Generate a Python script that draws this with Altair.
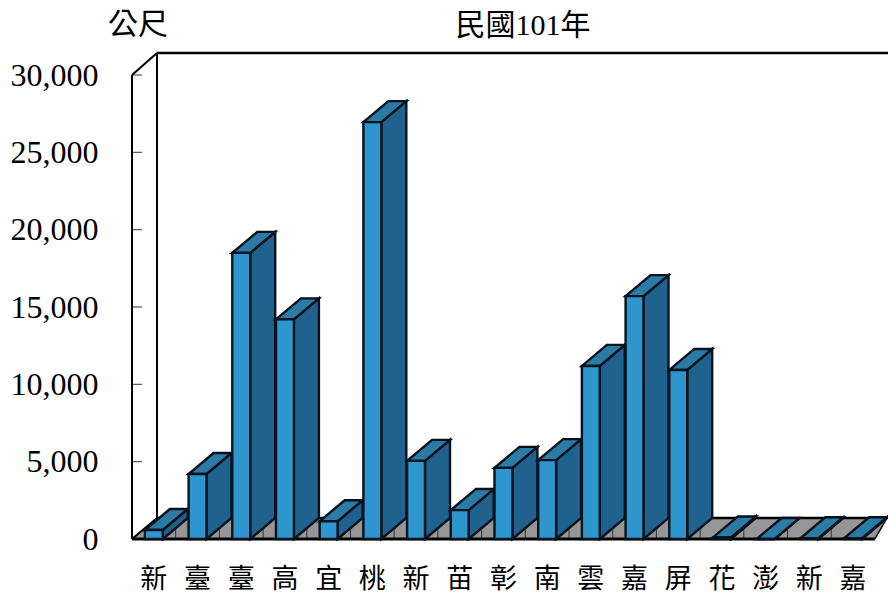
import altair as alt
import pandas as pd

categories = ["新","臺","臺","高","宜","桃","新","苗","彰","南","雲","嘉","屏","花","澎","新","嘉"]
values = [580, 4200, 18500, 14200, 1150, 26950, 5050, 1870, 4600, 5100, 11190, 15700, 10930, 100, 0, 50, 50]
y_ticks = [0, 5000, 10000, 15000, 20000, 25000, 30000]
title_text = "民國101年"
unit_text = "公尺"

SLOT = 43.7     # px per category
DX = 25 / SLOT  # depth in slots
DY = 1358       # depth in value units
LEFT, WIDTH = 0.295, 0.41
PLOT_W = 756
XMAX = PLOT_W / SLOT
YMAX = 486 / 464 * 30000
FLOOR_R = 16 + LEFT + WIDTH + DX
FONT = "Liberation Serif, Noto Sans CJK TC"

xs = alt.Scale(domain=[0, XMAX], nice=False, zero=False)
ys = alt.Scale(domain=[0, YMAX], nice=False, zero=False)
y_axis = alt.Axis(
    values=y_ticks, format=",d", domain=False, ticks=False, grid=False, title=None,
    labelFont="Liberation Serif", labelFontSize=32, labelColor="#000", labelPadding=34)

def X(f): return alt.X(f, scale=xs, axis=None)
def Y(f): return alt.Y(f, scale=ys, axis=y_axis)

rows = pd.DataFrame({"i": range(len(values)), "cat": categories, "v": values})
rows["x0"] = rows.i + LEFT
rows["x1"] = rows.x0 + WIDTH
rows["center"] = rows.i + 0.5
rows["zero"] = 0

side = pd.concat([
    pd.DataFrame({"i": rows.i, "x": rows.x1, "lo": 0, "hi": rows.v}),
    pd.DataFrame({"i": rows.i, "x": rows.x1 + DX, "lo": DY, "hi": rows.v + DY}),
])
top = pd.concat([
    pd.DataFrame({"i": rows.i, "y": rows.v, "a": rows.x0, "b": rows.x1}),
    pd.DataFrame({"i": rows.i, "y": rows.v + DY, "a": rows.x0 + DX, "b": rows.x1 + DX}),
])
floor = pd.DataFrame({"y": [0, DY], "a": [0, DX], "b": [17, FLOOR_R]})

segments = pd.DataFrame([
    dict(x=0, x2=0, y=0, y2=30000, w=2),
    dict(x=DX, x2=DX, y=DY, y2=YMAX, w=2),
    dict(x=0, x2=DX, y=30000, y2=YMAX, w=2),
    dict(x=DX, x2=XMAX, y=YMAX, y2=YMAX, w=2.5),
    dict(x=0, x2=DX, y=0, y2=DY, w=2),
    dict(x=DX, x2=FLOOR_R, y=DY, y2=DY, w=2.5),
    dict(x=17, x2=FLOOR_R, y=0, y2=DY, w=1.5),
    dict(x=0, x2=17, y=0, y2=0, w=3),
])

floor_ticks = pd.DataFrame({"x": list(range(1, 17)), "lo": 0, "hi": 650})
wall_ticks = pd.DataFrame({"y": y_ticks[1:], "a": 0, "b": 10 / SLOT})

floor_layer = alt.Chart(floor).mark_area(orient="horizontal", color="#969696").encode(
    y=Y("y:Q"), x=X("a:Q"), x2="b:Q")

ftick_layer = alt.Chart(floor_ticks).mark_rule(color="#333", strokeWidth=1).encode(
    x=X("x:Q"), y=Y("lo:Q"), y2="hi:Q")
wtick_layer = alt.Chart(wall_ticks).mark_rule(color="#555", strokeWidth=1.2).encode(
    x=X("a:Q"), x2="b:Q", y=Y("y:Q"))

seg_layer = alt.Chart(segments).mark_rule(color="#000").encode(
    x=X("x:Q"), x2="x2:Q", y=Y("y:Q"), y2="y2:Q",
    strokeWidth=alt.StrokeWidth("w:Q", scale=None))

side_layer = alt.Chart(side).mark_area(color="#1F628E", stroke="#06121C", strokeWidth=2.4).encode(
    x=X("x:Q"), y=Y("lo:Q"), y2="hi:Q", detail="i:N")
top_layer = alt.Chart(top).mark_area(orient="horizontal", color="#2A7BA6", stroke="#06121C", strokeWidth=2.4).encode(
    y=Y("y:Q"), x=X("a:Q"), x2="b:Q", detail="i:N")
front_layer = alt.Chart(rows).mark_rect(color="#2E96CF", stroke="#06121C", strokeWidth=2.4).encode(
    x=X("x0:Q"), x2="x1:Q", y=Y("zero:Q"), y2="v:Q")

label_layer = alt.Chart(rows).mark_text(font=FONT, fontSize=27, color="#000", baseline="middle").encode(
    x=X("center:Q"), y=alt.value(527), text="cat:N")

title_layer = alt.Chart(pd.DataFrame({"t": [title_text]})).mark_text(
    font=FONT, fontSize=30, color="#000", baseline="middle").encode(
    x=alt.value(391), y=alt.value(-27), text="t:N")
unit_layer = alt.Chart(pd.DataFrame({"t": [unit_text]})).mark_text(
    font=FONT, fontSize=30, color="#000", baseline="middle").encode(
    x=alt.value(6), y=alt.value(-28), text="t:N")

chart = alt.layer(
    floor_layer, ftick_layer, wtick_layer, seg_layer, side_layer, top_layer, front_layer,
    label_layer, title_layer, unit_layer,
).properties(
    width=PLOT_W, height=486,
    autosize=alt.AutoSizeParams(type="none"),
    padding={"left": 124, "top": 45, "right": 0, "bottom": 56},
).configure_view(stroke=None)

chart.save("out.html", embed_options={"renderer": "svg", "actions": False})
